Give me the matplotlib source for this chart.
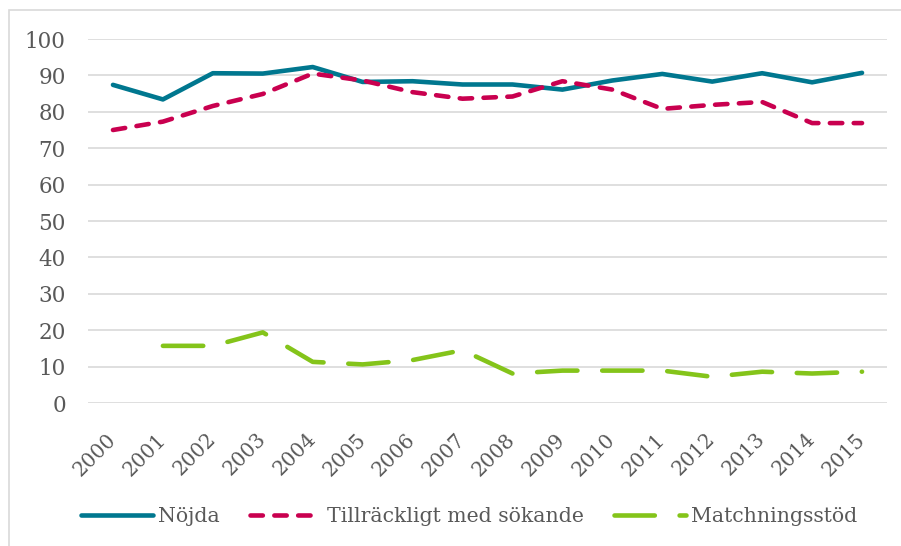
import numpy as np
import matplotlib
matplotlib.use("Agg")
import matplotlib.pyplot as plt
from matplotlib.patches import Rectangle

# values
years = [str(y) for y in range(2000, 2016)]
nojda = [87.4, 83.4, 90.6, 90.5, 92.3, 88.2, 88.4, 87.5, 87.5, 86.1, 88.6, 90.4, 88.3, 90.6, 88.1, 90.7]
tillrackligt = [75.0, 77.3, 81.6, 84.9, 90.5, 88.6, 85.4, 83.6, 84.2, 88.4, 86.1, 80.8, 81.9, 82.7, 76.9, 76.9]
matchning = [np.nan, 15.7, 15.7, 19.4, 11.3, 10.6, 11.8, 14.5, 8.1, 8.9, 8.9, 8.9, 7.2, 8.6, 8.1, 8.6]
yticks = list(range(0, 101, 10))

txt = "#595959"
plt.rcParams["font.family"] = ["DejaVu Serif"]

fig = plt.figure(figsize=(9.01, 5.46), dpi=100)
ax = fig.add_axes([88 / 901, 143 / 546, 799 / 901, 364 / 546])

# chart border (cut off at right and bottom in the reference)
fig.patches.append(Rectangle((9 / 901, -0.1), 1.2, (536 / 546) + 0.1, transform=fig.transFigure,
                             fill=False, edgecolor="#D9D9D9", linewidth=1.2))

x = np.arange(len(years))
lw = 3.3
ax.plot(x, nojda, color="#00778F", lw=lw, solid_capstyle="round", solid_joinstyle="round",
        label="Nöjda")
ax.plot(x, tillrackligt, color="#C9004F", lw=lw, dashes=(2.7, 2.5), dash_capstyle="round",
        dash_joinstyle="round", label="Tillräckligt med sökande")
ax.plot(x, matchning, color="#84C41A", lw=lw, dashes=(8.8, 5.4), dash_capstyle="round",
        dash_joinstyle="round", label="Matchningsstöd")

ax.set_xlim(-0.5, len(years) - 0.5)
ax.set_ylim(0, 100)
ax.set_yticks(yticks)
ax.set_yticklabels([str(v) for v in yticks])
ax.set_xticks(x)
ax.set_xticklabels(years, rotation=45, ha="right", va="center", rotation_mode="anchor")
ax.tick_params(axis="y", length=0, pad=16, labelsize=15.5, labelcolor=txt)
ax.tick_params(axis="x", length=0, pad=24, labelsize=14.5, labelcolor=txt)
ax.grid(axis="y", color="#D9D9D9", lw=1.2)
ax.set_axisbelow(True)
for s in ax.spines.values():
    s.set_visible(False)

leg = fig.legend(loc="center", bbox_to_anchor=(469 / 901, 1 - 517 / 546), ncol=3, frameon=False,
                 fontsize=14.7, handlelength=3.5, handletextpad=0.25, columnspacing=1.5,
                 labelcolor=txt)

fig.savefig("out.png", dpi=100)
